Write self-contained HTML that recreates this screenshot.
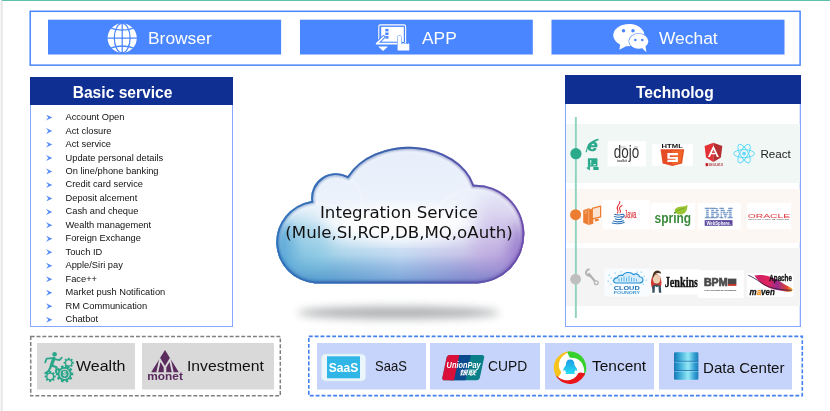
<!DOCTYPE html>
<html lang="en">
<head>
<meta charset="utf-8">
<title>Integration Service Architecture</title>
<style>
html,body{margin:0;padding:0;background:#fff;}
body{width:830px;height:411px;position:relative;overflow:hidden;will-change:transform;font-family:"Liberation Sans",sans-serif;}
.abs{position:absolute;}
#topline{left:2px;top:0;width:828px;height:1px;background:#5fc0ab;z-index:2;}
#leftedge{left:0;top:0;width:3px;height:411px;background:linear-gradient(90deg,#f8f6f8 0,#f8f6f8 1px,#e5e3e5 1px,#e5e3e5 2px,#efedef 2px,#efedef 3px);}
#channels{left:0;top:0;}
.chan{position:absolute;top:19px;height:36px;color:#fff;font-size:17.4px;line-height:34px;white-space:nowrap;}
.chan span{position:absolute;top:2.2px;}
.chan svg{position:absolute;left:0;top:0;}
.hdr{position:absolute;background:#0f2f93;color:#fff;font-weight:bold;font-size:15.6px;white-space:nowrap;}
.hdr span{position:absolute;top:6.3px;line-height:20px;}
.panel{position:absolute;border:1px solid #86a6ff;box-sizing:border-box;}
#svc{list-style:none;margin:0;padding:0;position:absolute;left:46px;top:111.1px;font-size:9.3px;line-height:13.47px;color:#111;}
#svc li{position:relative;padding-left:19.5px;height:13.47px;white-space:nowrap;}
#svc li:before{content:"";position:absolute;left:0;top:3.5px;width:6.4px;height:6px;background:#5b8ff9;clip-path:polygon(0 0,100% 50%,0 100%,35% 50%);}
.band{position:absolute;left:566px;width:234px;}
.logo{position:absolute;background:#fff;}
.dash{position:absolute;}
.tile{position:absolute;top:343px;height:46px;white-space:nowrap;font-size:15px;color:#111;}
.tile.g{background:#d9d9d9;box-shadow:0 1px 0 0 #ececec;}
.tile.b{background:#c6d4fb;box-shadow:0 1px 0 0 #e2e9fd;}
.tile span{position:absolute;top:14px;line-height:18px;display:inline-block;transform-origin:0 14.2px;}
.tile svg{position:absolute;left:0;top:0;}
#cloudtxt{left:273px;top:202.500px;width:252px;text-align:center;font-family:"DejaVu Sans","Liberation Sans",sans-serif;font-size:16.600px;line-height:20.300px;color:#111;white-space:nowrap;}
</style>
</head>
<body>
<div id="topline" class="abs"></div>
<div id="leftedge" class="abs"></div>

<!-- channels -->
<svg id="channels" class="abs" width="830" height="70" viewBox="0 0 830 70"><rect x="30.200" y="11.300" width="769.900" height="53.850" fill="none" stroke="#4a86ff" stroke-width="1.500"/></svg>
<div class="chan" style="left:48px;width:233px;">
<svg width="234" height="36" viewBox="48 19 234 36">
<rect x="48" y="19.700" width="233.100" height="34.800" fill="#4a86ff"/>
<circle cx="122.2" cy="38.1" r="14.6" fill="#fff"/>
<g fill="none" stroke="#4a86ff" stroke-width="1.25">
<path d="M122.2 23v30M107 38.1h30.4"/>
<ellipse cx="122.2" cy="38.1" rx="7.9" ry="14.6"/>
<path d="M108 27.2Q122.2 33.2 136.4 27.2M108 49Q122.2 43 136.4 49"/>
</g>
</svg>
<span style="left:100px;">Browser</span></div>
<div class="chan" style="left:300px;width:233px;">
<svg width="234" height="36" viewBox="300 19 234 36">
<rect x="300" y="19.700" width="232.800" height="34.800" fill="#4a86ff"/>
<rect x="378.8" y="24.9" width="26.8" height="18.6" rx="1.6" fill="none" stroke="#fff" stroke-width="1.1"/>
<rect x="381.2" y="26.9" width="22.6" height="15" fill="#fff"/>
<g fill="#4a86ff"><rect x="385.3" y="28.9" width="3.2" height="2.5"/><rect x="385.3" y="32.5" width="3.2" height="2.5"/><rect x="385.3" y="36.1" width="3.2" height="2.5"/></g>
<path d="M383.6 37L376.6 43.6H397" fill="none" stroke="#4a86ff" stroke-width="3.6" stroke-linejoin="round" stroke-linecap="round"/>
<path d="M383.6 37L376.6 43.6H397" fill="none" stroke="#fff" stroke-width="1.7" stroke-linejoin="round" stroke-linecap="round"/>
<path d="M378.2 46.5h9.8l-4.9 4.5z" fill="#fff"/>
<path d="M397.6 50.6V37.6a1.9 1.9 0 0 1 3.8 0V44h1.2l.9-.9.9.9h.7l.9-.9.9.9h.6l.9-.7.9.9V50.6z" fill="#fff" stroke="#4a86ff" stroke-width="1" paint-order="stroke"/>
</svg>
<span style="left:122px;">APP</span></div>
<div class="chan" style="left:551px;width:234px;">
<svg width="234" height="36" viewBox="551 19 234 36">
<rect x="551.500" y="19.700" width="233" height="34.800" fill="#4a86ff"/>
<path d="M620.3 43.8L619.4 49.8L626.5 45.9A14.9 11 0 1 0 620.3 43.8z" fill="#fff"/>
<ellipse cx="628.2" cy="35.3" rx="14.9" ry="11" fill="#fff"/>
<g stroke="#4a86ff" stroke-width="1.3" paint-order="stroke" fill="#fff">
<path d="M641.5 47.6L646.3 52L645.3 46.4z"/>
<ellipse cx="638.7" cy="41.3" rx="9.6" ry="7.5"/>
</g>
<path d="M641.8 47.4L646.3 52L645.2 46.2z" fill="#fff"/>
<g fill="#4a86ff"><circle cx="623.500" cy="30.800" r="1.750"/><circle cx="633" cy="30.800" r="1.750"/><circle cx="635.300" cy="40" r="1.300"/><circle cx="642.300" cy="40" r="1.300"/></g>
</svg>
<span style="left:108px;">Wechat</span></div>

<!-- basic service -->
<div class="panel" style="left:30px;top:77px;width:203px;height:250px;"></div>
<div class="hdr" style="left:30px;top:77px;width:203px;height:28px;"><span style="left:42.7px;">Basic service</span></div>
<ul id="svc">
<li>Account Open</li>
<li>Act closure</li>
<li>Act service</li>
<li>Update personal details</li>
<li>On line/phone banking</li>
<li>Credit card service</li>
<li>Deposit alcement</li>
<li>Cash and cheque</li>
<li>Wealth management</li>
<li>Foreign Exchange</li>
<li>Touch ID</li>
<li>Apple/Siri pay</li>
<li>Face++</li>
<li>Market push Notification</li>
<li>RM Communication</li>
<li>Chatbot</li>
</ul>

<!-- cloud -->
<svg class="abs" style="left:255px;top:130px;" width="290" height="205" viewBox="255 130 290 205">
<defs>
<path id="cp" d="M315 283.400A42 41.500 0 0 1 311.300 201.100A25 25 0 0 1 347.700 176A67.500 51 0 0 1 474 184.800A48 48.500 0 0 1 477 283.400Z"/>
<clipPath id="cc"><use href="#cp"/></clipPath>
<linearGradient id="cg" x1="0" y1="0" x2="1" y2="0">
<stop offset="0" stop-color="#3a8ccb"/><stop offset=".22" stop-color="#6db9da"/><stop offset=".5" stop-color="#a3c6ea"/><stop offset=".78" stop-color="#ab96d6"/><stop offset="1" stop-color="#8a66c2"/>
</linearGradient>
<linearGradient id="cv" x1="0" y1="0" x2="0" y2="1">
<stop offset="0" stop-color="#e6eefa"/><stop offset=".35" stop-color="#eaf1fb"/><stop offset=".56" stop-color="#f2f6fc" stop-opacity=".97"/><stop offset=".7" stop-color="#f2f6fc" stop-opacity=".62"/><stop offset=".84" stop-color="#f2f6fc" stop-opacity=".2"/><stop offset=".95" stop-color="#f2f6fc" stop-opacity="0"/>
</linearGradient>
<linearGradient id="cd" x1="0" y1="0" x2="0" y2="1"><stop offset="0" stop-color="#2a62b4" stop-opacity="0"/><stop offset="1" stop-color="#2a62b4" stop-opacity=".38"/></linearGradient>
<linearGradient id="wr" gradientUnits="userSpaceOnUse" x1="0" y1="140" x2="0" y2="260"><stop offset="0" stop-color="#fff" stop-opacity=".7"/><stop offset=".55" stop-color="#fff" stop-opacity=".55"/><stop offset="1" stop-color="#fff" stop-opacity="0"/></linearGradient>
<linearGradient id="co" x1="0" y1="0" x2="1" y2="0">
<stop offset="0" stop-color="#3272ba"/><stop offset=".5" stop-color="#3e60ac"/><stop offset="1" stop-color="#6e4eac"/>
</linearGradient>
<filter id="cb" x="-20%" y="-20%" width="140%" height="140%"><feGaussianBlur stdDeviation="8"/></filter>
<filter id="cb3" x="-20%" y="-20%" width="140%" height="140%"><feGaussianBlur stdDeviation="2.500"/></filter>
<filter id="cb4" x="-20%" y="-20%" width="140%" height="140%"><feGaussianBlur stdDeviation=".6"/></filter>
<filter id="cb2" x="-20%" y="-20%" width="140%" height="140%"><feGaussianBlur stdDeviation="1"/></filter>
<filter id="sb" x="-20%" y="-100%" width="140%" height="300%"><feGaussianBlur stdDeviation="4.500"/></filter>
</defs>
<ellipse cx="398.500" cy="312.800" rx="101" ry="6.300" fill="#6f7478" opacity=".55" filter="url(#sb)"/>
<g clip-path="url(#cc)">
<rect x="260" y="135" width="280" height="155" fill="url(#cg)"/>
<rect x="260" y="135" width="280" height="155" fill="url(#cv)"/>
<rect x="260" y="255" width="280" height="30" fill="url(#cd)"/>
<g filter="url(#cb)">
<ellipse cx="266" cy="252" rx="27" ry="40" fill="#3f92d0"/>
<ellipse cx="533" cy="252" rx="24" ry="40" fill="#8a68c6"/>
<ellipse cx="500" cy="215" rx="26" ry="22" fill="#d9d2f0" opacity=".7"/>
</g>
<g filter="url(#cb)">
<ellipse cx="300" cy="246" rx="30" ry="30" fill="#7cc3e2" opacity=".5"/>
<ellipse cx="498" cy="246" rx="26" ry="30" fill="#b49ddc" opacity=".4"/>
</g>
<g filter="url(#cb)" fill="#fff">
<ellipse cx="400" cy="224" rx="68" ry="17"/>
</g>
<g fill="none" stroke="#fff" stroke-width="1.200" opacity=".6" filter="url(#cb2)">
<path d="M474 188.500A46.500 46.500 0 0 0 430.500 226"/>
<path d="M347 178A23.500 23.500 0 0 1 358.500 212"/>
<path d="M311 203.800A40 40 0 0 1 345 214"/>
</g>
<use href="#cp" fill="none" stroke="url(#wr)" stroke-width="10.500" filter="url(#cb2)"/>
<use href="#cp" fill="none" stroke="url(#co)" stroke-width="7" opacity=".45" filter="url(#cb2)"/>
<use href="#cp" fill="none" stroke="url(#co)" stroke-width="3.800" filter="url(#cb4)"/>
</g>
</svg>
<div id="cloudtxt" class="abs">Integration Service<br>(Mule,SI,RCP,DB,MQ,oAuth)</div>

<!-- technology -->
<div class="panel" style="left:565px;top:76px;width:236px;height:251px;box-shadow:inset -1px 0 0 #dfe7fe;"></div>
<div class="hdr" style="left:565px;top:75px;width:236px;height:29px;"><span style="left:71px;top:8.200px;">Technolog</span></div>
<div class="band" style="top:124px;height:59px;background:#f0f7f5;"></div>
<div class="band" style="top:189px;height:54px;background:#fdf7f4;"></div>
<div class="band" style="top:248px;height:58px;background:#f4f4f5;"></div>
<svg class="abs" style="left:565px;top:76px;" width="236" height="251" viewBox="565 76 236 251" font-family="Liberation Sans, sans-serif">
<!-- timeline -->
<rect x="574.9" y="117" width="1.9" height="201" fill="#8fd2c0"/>
<circle cx="575.9" cy="153.7" r="5.6" fill="#2ba98b"/>
<circle cx="575.6" cy="214.7" r="5.5" fill="#ed7d31"/>
<circle cx="575.6" cy="279.2" r="5.4" fill="#bfbfbf"/>

<!-- row 1 : IE + device -->
<text x="587.300" y="150.600" font-size="16.500" font-weight="bold" font-style="italic" fill="#2ba98b" stroke="#2ba98b" stroke-width=".5" textLength="10.400" lengthAdjust="spacingAndGlyphs">e</text>
<path d="M586.300 151.600C586.800 146 592 140.200 598.500 139.400C595.500 140.400 593.400 141.800 592 143.400" fill="none" stroke="#2ba98b" stroke-width="1.200" stroke-linecap="round"/>
<rect x="587.9" y="158.3" width="9.5" height="8.3" fill="#2ba98b"/>
<rect x="590.2" y="160" width="1.1" height="3.4" fill="#d9f0ea"/><rect x="590.2" y="164.2" width="1.1" height="1.1" fill="#d9f0ea"/><rect x="593.3" y="164.2" width="2.6" height="1.1" fill="#d9f0ea"/>
<path d="M586.3 168l3.6-2.6v5.2zM593.3 167h5.3v3h-5.3z" fill="#2ba98b"/>
<!-- dojo -->
<rect x="607.6" y="141.2" width="38.3" height="25.2" fill="#fff"/>
<text x="613.8" y="157.7" font-size="17.600" fill="#333" textLength="25.400" lengthAdjust="spacingAndGlyphs">dojo</text>
<path d="M620.800 147h4.600M633.600 147h4.600" stroke="#888" stroke-width=".6"/>
<text x="617.2" y="162" font-size="3.6" font-weight="bold" fill="#444" textLength="9.6" lengthAdjust="spacingAndGlyphs">toolkit</text>
<!-- html5 -->
<rect x="652.1" y="143.8" width="40.8" height="22" fill="#fff"/>
<text x="661.6" y="148.2" font-size="5.2" font-weight="bold" fill="#111" textLength="21.2" lengthAdjust="spacingAndGlyphs">HTML</text>
<path d="M660.5 149.2h23.7l-2.1 14.2-9.8 2.7-9.7-2.7z" fill="#e44d26"/>
<path d="M672.3 150.4h10.5l-1.8 12.1-8.7 2.4z" fill="#f16529"/>
<path d="M667.4 153.1h10.5v2.1h-8.1v1.9h8.1v4.8h-10.5v-2.1h8.1v-1h-8.1z" fill="#fff"/>
<!-- angular -->
<path d="M713.4 142.7l-8.8 3.3 1.4 11.5 7.4 4.4z" fill="#e23237"/>
<path d="M713.4 142.7l8.9 3.3-1.4 11.5-7.5 4.4z" fill="#b52e31"/>
<path d="M713.4 145.4l-5.5 11.5h2.1l1.1-2.6h4.6l1.1 2.6h2.1zM713.4 149.3l1.6 3.6h-3.2z" fill="#fff"/>
<rect x="704.9" y="163.1" width="18.6" height="3.4" fill="#f6f1f1"/>
<path d="M705.4 163.5l1.5-.5 1.5.5-.3 2.3-1.2.6-1.2-.6z" fill="#c3202a"/>
<text x="709" y="166" font-size="2.9" font-weight="bold" fill="#a44" textLength="14" lengthAdjust="spacingAndGlyphs">ANGULARJS</text>
<!-- react -->
<g fill="none" stroke="#61dafb" stroke-width="1">
<ellipse cx="744.1" cy="153.6" rx="10.4" ry="4"/>
<ellipse cx="744.1" cy="153.6" rx="10.4" ry="4" transform="rotate(60 744.1 153.6)"/>
<ellipse cx="744.1" cy="153.6" rx="10.4" ry="4" transform="rotate(120 744.1 153.6)"/>
</g>
<circle cx="744.1" cy="153.6" r="1.9" fill="#61dafb"/>
<text x="760.4" y="157.8" font-size="11.8" fill="#222" textLength="30.4" lengthAdjust="spacingAndGlyphs">React</text>

<!-- row 2 : computer icon -->
<path d="M583.2 210.3l5.4-2 4.7 1.5v14l-4.7 1.2-5.4-2.3z" fill="#ed7d31"/>
<path d="M588.7 208.5v16.3" stroke="#f7c9a6" stroke-width=".6"/>
<path d="M584.6 211.6l2.6-.7M584.6 213.4l2.6-.6" stroke="#f7c9a6" stroke-width=".7"/>
<path d="M592.3 208.4l8.3-2.2v10.6l-8.3 2z" fill="#fbe3d2" stroke="#ed7d31" stroke-width="1.2" stroke-linejoin="round"/>
<path d="M594.6 219.3l3.6-.8.9 2.1-4 .9z" fill="#ed7d31"/>
<!-- java -->
<rect x="602.4" y="199.8" width="47.4" height="29.6" fill="#fff"/>
<g fill="none" stroke="#e0383e" stroke-width="1.1" stroke-linecap="round">
<path d="M619.800 201.600C620.600 204.400 615.400 206.400 617.600 209.600C618.600 211 618.200 212.200 617.400 213.200"/>
<path d="M622 205.400C619.400 206.800 618.800 208.600 620.200 210.200C620.800 211 620.600 211.800 620 212.600"/>
</g>
<g fill="none" stroke="#3174b9" stroke-width="1.1" stroke-linecap="round">
<path d="M614.6 214.300q3.700 1.300 7.600 0"/>
<path d="M614.400 216.600q3.900 1.300 7.800 0"/>
<path d="M615.400 218.900q3.200 1.100 6.200 0"/>
<path d="M622.600 214.400c2.200-.4 2.200 2.400-.9 3.500"/>
<path d="M613.400 221.100q4.800 1.700 10.200-.4"/>
<path d="M612.200 223q6 1.700 12-.6"/>
</g>
<text x="624.500" y="218.300" font-size="11.200" fill="#e0383e" stroke="#e0383e" stroke-width=".25" textLength="11.800" lengthAdjust="spacingAndGlyphs">Java</text>
<!-- spring -->
<rect x="650.900" y="202.800" width="44.200" height="26.600" fill="#fff"/>
<path d="M687.300 204.600c.6 4.800-1.300 9.800-6.600 9.900-3.800.1-5.600-1.900-6-4 .8-3.300 4.600-3.600 7.800-3.900 2.500-.2 4-.8 4.800-2z" fill="#9bc531"/>
<path d="M674.900 212.800c2.600-3.300 6.600-3.500 9.700-4.800" fill="none" stroke="#5a9a32" stroke-width=".7"/>
<text x="654.500" y="223.100" font-size="13.900" font-weight="bold" fill="#3a8a3c" textLength="36.600" lengthAdjust="spacingAndGlyphs">spring</text>
<!-- ibm websphere -->
<rect x="697.700" y="202.800" width="43.100" height="26.800" fill="#fff"/>
<text x="704.600" y="217.900" font-family="Liberation Serif, serif" font-size="14.200" font-weight="bold" fill="#7396c8" stroke="#7396c8" stroke-width=".5" textLength="28.400" lengthAdjust="spacingAndGlyphs">IBM</text>
<path d="M703 209.500h32M703 211.600h32M703 213.700h32M703 215.800h32" stroke="#fff" stroke-width=".7"/>
<rect x="704.700" y="220.100" width="27.800" height="5.700" fill="#5c4aa0"/>
<text x="706.400" y="224.600" font-size="4.900" font-weight="bold" fill="#fff" textLength="24.400" lengthAdjust="spacingAndGlyphs">WebSphere.</text>
<!-- oracle -->
<rect x="747" y="202.800" width="44.200" height="26.400" fill="#fff"/>
<text x="747.700" y="218" font-size="5.600" fill="#e2353b" textLength="42.600" lengthAdjust="spacingAndGlyphs">ORACLE</text>
<text x="748.200" y="219.700" font-size="1.700" fill="#444" textLength="41.500" lengthAdjust="spacingAndGlyphs">SOFTWARE. HARDWARE. COMPLETE.</text>

<!-- row 3 : wrench -->
<g stroke="#b3b3b3" fill="none">
<path d="M588.200 273.200l6.600 7.800" stroke-width="2.300"/>
<circle cx="596.300" cy="282.700" r="1.900" stroke-width="1.200"/>
<path d="M589.600 269.600a3.100 3.100 0 1 0 1.500 5.300" stroke-width="1.900"/>
</g>
<!-- cloud foundry -->
<rect x="604.500" y="268.500" width="45.300" height="28" fill="#f8fcff"/>
<g fill="#8ed0f4"><rect x="608.500" y="274.500" width="1.300" height="1.300"/><rect x="610.500" y="277.500" width="1.300" height="1.300"/><rect x="607.500" y="280.500" width="1.300" height="1.300"/><rect x="610.500" y="283.500" width="1.300" height="1.300"/><rect x="614.500" y="272.500" width="1.300" height="1.300"/><rect x="640.500" y="271.500" width="1.300" height="1.300"/><rect x="643.500" y="275.500" width="1.300" height="1.300"/><rect x="645.500" y="279.500" width="1.300" height="1.300"/><rect x="642.500" y="283.500" width="1.300" height="1.300"/><rect x="636.500" y="271.500" width="1.300" height="1.300"/><rect x="620.500" y="271.200" width="1.300" height="1.300"/><rect x="612.500" y="280" width="1.300" height="1.300"/></g>
<path d="M616.500 283h22.500c5 0 5.400-5.600.6-6.200-.6-2.800-4-3.600-6.200-2.200-2-3-9-3-10.600.8-2.600-.8-5 .2-5.400 2.200-4.600.2-4.800 5.400-1.400 5.400z" fill="#d4ecfb" stroke="#1f8fd6" stroke-width="1.100"/>
<path d="M619 281.500v-3M621.500 281.500v-4M624 281.500v-5M626.500 281.500v-4M629 281.500v-5.500M631.500 281.500v-4M634 281.500v-3.500M636.500 281.500v-2.500" stroke="#5fb5e8" stroke-width="1"/>
<text x="613.700" y="290" font-size="5.300" font-weight="bold" fill="#1b6fb5" textLength="26" lengthAdjust="spacingAndGlyphs">CLOUD</text>
<text x="613.700" y="293.500" font-size="3.300" font-weight="bold" fill="#4a9bd6" textLength="26.400" lengthAdjust="spacingAndGlyphs">FOUNDRY</text>
<!-- jenkins -->
<rect x="650.300" y="269.500" width="48.900" height="25" fill="#fff"/>
<ellipse cx="656.200" cy="282.600" rx="5.300" ry="8.600" fill="#d33833"/>
<path d="M652.300 286.500c0-2.500 8-2.500 8.400 0l.6 6.300h-9z" fill="#335061"/>
<path d="M655 286l1.700 1.300 1.700-1.300.6 7.500h-4.500z" fill="#fff"/>
<ellipse cx="656.600" cy="279.200" rx="3.700" ry="4.800" fill="#ecd0b4"/>
<path d="M652.700 278.300c-.6-5 2-7.800 4.600-7.800 2.200 0 3.800 1.300 3.800 3.200-2.400-1.200-5.400-.6-6.600 1.600z" fill="#4a3423"/>
<path d="M655.200 283.400q1.800 1.200 3.600 0" stroke="#7a3a2a" stroke-width=".6" fill="none"/>
<text x="664.700" y="287" font-family="Liberation Serif, serif" font-size="14.400" font-weight="bold" fill="#111" stroke="#111" stroke-width=".4" textLength="33.400" lengthAdjust="spacingAndGlyphs">Jenkins</text>
<!-- bpm -->
<rect x="697.700" y="270.200" width="46" height="27.800" fill="#fff"/>
<text x="703.900" y="285.900" font-size="10.200" font-weight="bold" fill="#4a4a4a" stroke="#4a4a4a" stroke-width=".7" textLength="23.600" lengthAdjust="spacingAndGlyphs">BPM</text>
<rect x="727.800" y="278.600" width="8.600" height="5.400" fill="#4a4a4a"/><rect x="727.800" y="284" width="8.600" height="1.900" fill="#c8332d"/>
<text x="704.300" y="290.500" font-size="1.900" font-weight="bold" fill="#333" textLength="32" lengthAdjust="spacingAndGlyphs">THE PROCESS MASTERMIND</text>
<!-- maven -->
<defs><linearGradient id="fth" x1="0" y1="0" x2="1" y2="0"><stop offset="0" stop-color="#c81e6a"/><stop offset=".35" stop-color="#e0245a"/><stop offset=".6" stop-color="#9a2a90"/><stop offset=".85" stop-color="#e2452f"/><stop offset="1" stop-color="#f2c43a"/></linearGradient></defs>
<rect x="747" y="273.300" width="46.400" height="23.400" fill="#fff"/>
<path d="M754.500 275.600c8-2 19 1 28 7.400 5 3.400 9.400 4.400 10.200 6.400.6 1.800-2.600 3-7 2.200-8-1.600-14.800-2-21-6-5-3.200-8.600-7-10.200-10z" fill="url(#fth)"/>
<path d="M748.300 275.300c3 1 8 4 13 7.600 7 5 17 7 30.500 7.400" fill="none" stroke="#2a1a3a" stroke-width=".8"/>
<text x="769.300" y="281.200" font-size="8.800" font-weight="bold" fill="#111" stroke="#111" stroke-width=".35" textLength="22.600" lengthAdjust="spacingAndGlyphs">Apache</text>
<text x="749.600" y="294.500" font-size="9.600" font-weight="bold" font-style="italic" fill="#111" stroke="#111" stroke-width=".3" textLength="25.200" lengthAdjust="spacingAndGlyphs">m<tspan fill="#f08a1c" stroke="#f08a1c">a</tspan>ven</text>
</svg>

<!-- bottom -->
<svg class="abs" style="left:20px;top:330px;" width="800" height="75" viewBox="20 330 800 75" font-family="Liberation Sans, sans-serif">
<rect x="30.700" y="336.500" width="249.600" height="59.300" fill="none" stroke="#7f7f7f" stroke-width="1.500" stroke-dasharray="3.900 1.950"/>
<rect x="308.800" y="336.400" width="493.500" height="59.200" fill="none" stroke="#4480f0" stroke-width="1.600" stroke-dasharray="3.900 1.950"/>
</svg>
<div class="tile g" style="left:37px;width:98px;">
<svg width="98" height="46" viewBox="37 343 98 46">
<g fill="#2aa68a">
<circle cx="54.600" cy="354.200" r="2.300"/>
<g fill="none" stroke="#2aa68a" stroke-linecap="round" stroke-linejoin="round">
<path d="M53.900 358.400L51.300 365.600" stroke-width="3.300"/>
<path d="M53 358.200L46.600 358.600L45.200 362.400" stroke-width="1.700"/>
<path d="M54.600 359.200L59.400 360.200L61.800 357.600" stroke-width="1.700"/>
<path d="M51.800 365.400L56.600 367.200L56 372.200" stroke-width="2.100"/>
<path d="M51 366L48.800 370.800L45.400 373.200" stroke-width="2.100"/>
</g>
<path fill-rule="evenodd" d="M73.82 361.89L73.82 363.71L72.47 363.78L72.06 364.77L72.97 365.77L71.67 367.07L70.67 366.16L69.68 366.57L69.61 367.92L67.79 367.92L67.72 366.57L66.73 366.16L65.73 367.07L64.43 365.77L65.34 364.77L64.93 363.78L63.58 363.71L63.58 361.89L64.93 361.82L65.34 360.83L64.43 359.83L65.73 358.53L66.73 359.44L67.72 359.03L67.79 357.68L69.61 357.68L69.68 359.03L70.67 359.44L71.67 358.53L72.97 359.83L72.06 360.83L72.47 361.82ZM71.300 362.800a2.600 2.600 0 1 0-5.200 0a2.600 2.600 0 1 0 5.200 0z"/>
<path fill-rule="evenodd" d="M73.31 372.66L73.31 375.14L71.36 375.30L70.89 376.74L72.38 378.02L70.92 380.02L69.24 379.00L68.02 379.89L68.47 381.80L66.11 382.57L65.36 380.76L63.84 380.76L63.09 382.57L60.73 381.80L61.18 379.89L59.96 379.00L58.28 380.02L56.82 378.02L58.31 376.74L57.84 375.30L55.89 375.14L55.89 372.66L57.84 372.50L58.31 371.06L56.82 369.78L58.28 367.78L59.96 368.80L61.18 367.91L60.73 366.00L63.09 365.23L63.84 367.04L65.36 367.04L66.11 365.23L68.47 366.00L68.02 367.91L69.24 368.80L70.92 367.78L72.38 369.78L70.89 371.06L71.36 372.50ZM69.700 373.900a5.100 5.100 0 1 0-10.200 0a5.100 5.100 0 1 0 10.200 0z"/>
<circle cx="64.600" cy="373.900" r="4.100"/>
<path fill-rule="evenodd" d="M55.71 375.52L55.71 377.48L54.26 377.56L53.82 378.62L54.79 379.70L53.40 381.09L52.32 380.12L51.26 380.56L51.18 382.01L49.22 382.01L49.14 380.56L48.08 380.12L47.00 381.09L45.61 379.70L46.58 378.62L46.14 377.56L44.69 377.48L44.69 375.52L46.14 375.44L46.58 374.38L45.61 373.30L47.00 371.91L48.08 372.88L49.14 372.44L49.22 370.99L51.18 370.99L51.26 372.44L52.32 372.88L53.40 371.91L54.79 373.30L53.82 374.38L54.26 375.44ZM52.900 376.500a2.700 2.700 0 1 0-5.400 0a2.700 2.700 0 1 0 5.400 0z"/>
</g>
<text x="64.600" y="376.300" font-size="6.800" font-weight="bold" fill="#d9d9d9" text-anchor="middle">$</text>
</svg>
<span style="left:39.200px;transform:scale(1.066,1);">Wealth</span></div>
<div class="tile g" style="left:142px;width:132px;">
<svg width="132" height="46" viewBox="142 343 132 46">
<path d="M165 350.100L178.800 372.300H151.200z" fill="#5b2a5e"/>
<path d="M157.200 372.800L160 359.600L165 367.800L170 359.600L172.800 372.800" fill="none" stroke="#d9d9d9" stroke-width="1.900" stroke-linejoin="miter"/>
<path d="M165 367.500V372.800" stroke="#d9d9d9" stroke-width="2.600"/>
<text x="147.300" y="380.200" font-size="10.600" font-weight="bold" fill="#5b2a5e" textLength="35.600" lengthAdjust="spacingAndGlyphs">monet</text>
</svg>
<span style="left:45px;transform:scale(1.047,1);">Investment</span></div>
<div class="tile b" style="left:317px;width:109px;">
<svg width="109" height="46" viewBox="317 343 109 46">
<rect x="321.300" y="354" width="44.400" height="27" rx="4.500" fill="#eaf6fb" stroke="#d5e6f2" stroke-width=".8"/>
<rect x="327" y="356.300" width="33" height="22" fill="#2fb6e6"/>
<text x="328.800" y="371.700" font-size="13.200" font-weight="bold" fill="#fff" textLength="29.400" lengthAdjust="spacingAndGlyphs">SaaS</text>
</svg>
<span style="left:58.300px;transform:scale(0.867,1);">SaaS</span></div>
<div class="tile b" style="left:430px;width:110px;">
<svg width="110" height="46" viewBox="430 343 110 46">
<defs><clipPath id="up"><path d="M449.600 354.900h32.400a2.200 2.200 0 0 1 2.100 2.900l-4.300 20.300a3 3 0 0 1-2.800 2.200h-32.600a2.100 2.100 0 0 1-2-2.700l4.300-20.300a3.200 3.200 0 0 1 2.900-2.400z"/></clipPath></defs>
<g clip-path="url(#up)">
<rect x="440" y="354" width="46" height="27" fill="#0a7f88"/>
<path d="M455 354h16l-5.600 27h-16z" fill="#0b4a8e"/>
<path d="M440 354h19.500l-5.600 27h-14z" fill="#d9103a"/>
</g>
<text x="446.600" y="367.900" font-size="8.200" font-weight="bold" font-style="italic" fill="#fff" textLength="34" lengthAdjust="spacingAndGlyphs">UnionPay</text>
<text x="459" y="375.300" font-size="6.600" font-weight="bold" font-style="italic" fill="#fff" textLength="17" lengthAdjust="spacingAndGlyphs" font-family="Liberation Sans, Noto Sans CJK SC, sans-serif">银联</text>
</svg>
<span style="left:58.200px;transform:scale(0.922,1);">CUPD</span></div>
<div class="tile b" style="left:545px;width:109px;">
<svg width="109" height="46" viewBox="545 343 109 46">
<defs><linearGradient id="pg" x1="0" y1="0" x2="0" y2="1"><stop offset="0" stop-color="#1a9ae6"/><stop offset="1" stop-color="#25def2"/></linearGradient></defs>
<circle cx="570" cy="367.700" r="15.600" fill="#fff"/>
<path d="M557.6 378.1L556.6 376.9L555.8 375.6L555.1 374.2L554.6 372.7L554.2 371.2L553.9 369.7L553.8 368.1L553.8 366.6L554.0 365.0L554.4 363.5L554.8 362.0L555.4 360.6L556.2 359.2L557.1 358.0L558.1 356.8L559.2 355.7L560.4 354.7L561.7 353.8L563.0 353.1L564.5 352.5L565.9 352.0L567.5 351.7L569.0 351.5L570.6 351.5L570.6 351.5L569.1 352.2L567.6 352.8L566.3 353.4L565.1 354.2L564.0 355.0L562.9 355.9L562.0 356.9L561.2 357.9L560.5 359.0L560.0 360.1L559.5 361.3L559.2 362.4L559.0 363.6L558.9 364.7L558.9 365.8L559.0 366.9L559.2 368.0L559.5 369.0L559.9 369.9L560.4 370.8L560.9 371.6L561.1 372.6L560.6 374.1L557.6 378.1Z" fill="#f6c41c"/>
<path d="M567.2 351.7L568.7 351.5L570.3 351.5L571.8 351.6L573.4 351.9L574.9 352.2L576.3 352.8L577.7 353.5L579.1 354.3L580.3 355.2L581.5 356.2L582.5 357.4L583.4 358.6L584.2 360.0L584.9 361.4L585.5 362.8L585.8 364.3L586.1 365.9L586.2 367.4L586.2 369.0L586.0 370.5L585.6 372.0L585.1 373.5L584.5 374.9L583.7 376.3L583.7 376.3L583.9 374.6L584.1 373.1L584.2 371.6L584.2 370.2L584.0 368.8L583.7 367.5L583.3 366.2L582.8 365.0L582.3 363.8L581.6 362.8L580.8 361.8L580.0 361.0L579.1 360.2L578.2 359.5L577.2 359.0L576.2 358.6L575.2 358.2L574.1 358.0L573.1 357.9L572.1 357.8L571.1 357.9L570.2 357.5L569.1 356.4L567.2 351.7Z" fill="#36d12c"/>
<path d="M585.2 373.2L584.6 374.7L583.9 376.0L583.0 377.3L582.0 378.5L580.9 379.6L579.7 380.6L578.5 381.5L577.1 382.3L575.7 382.9L574.2 383.3L572.7 383.7L571.1 383.9L569.6 383.9L568.0 383.8L566.5 383.5L565.0 383.1L563.5 382.6L562.1 381.9L560.8 381.1L559.6 380.1L558.4 379.1L557.4 377.9L556.5 376.6L555.7 375.3L555.7 375.3L557.0 376.3L558.3 377.2L559.5 378.0L560.8 378.7L562.0 379.3L563.3 379.7L564.6 380.0L565.9 380.2L567.2 380.2L568.5 380.2L569.7 380.0L570.8 379.7L571.9 379.3L573.0 378.8L574.0 378.3L574.8 377.6L575.6 376.9L576.4 376.1L577.0 375.3L577.5 374.5L578.0 373.6L578.7 373.0L580.3 372.6L585.2 373.2Z" fill="#e8151b"/>
<path d="M570.200 359.500c2.600 0 4.200 2 4.200 4.600 0 1 .3 1.800 1.300 2.800 1.300 1.400 1.700 3.200 1.200 3.800-.4.400-1.100-.2-1.600-.9 0 1.400-.6 2.300-1.500 3 .8.300 1.300.7 1.100 1.100h-9.400c-.2-.4.300-.8 1.100-1.100-.9-.7-1.500-1.600-1.500-3-.5.700-1.200 1.300-1.600.9-.5-.6-.1-2.400 1.200-3.800 1-1 1.300-1.800 1.300-2.800 0-2.600 1.600-4.600 4.200-4.600z" fill="url(#pg)"/>
</svg>
<span style="left:47.200px;transform:scale(1.03,1);">Tencent</span></div>
<div class="tile b" style="left:659px;width:133px;">
<svg width="133" height="46" viewBox="659 343 133 46">
<defs><linearGradient id="dbg" x1="0" y1="0" x2="1" y2="0"><stop offset="0" stop-color="#1b74b4"/><stop offset=".18" stop-color="#2d9fd2"/><stop offset=".58" stop-color="#93e8f6"/><stop offset=".85" stop-color="#2f9bd0"/><stop offset="1" stop-color="#1f7ebc"/></linearGradient></defs>
<rect x="674" y="352.200" width="24.400" height="27.600" rx="1.200" fill="url(#dbg)"/>
<path d="M674 361.300h24.400M674 370.500h24.400" stroke="#1a6aa8" stroke-width="1" opacity=".8"/>
<path d="M674 362.200h24.400M674 371.400h24.400" stroke="#b5f0fa" stroke-width=".7" opacity=".6"/>
</svg>
<span style="left:43.800px;top:15.500px;transform:scale(1.008,1);">Data Center</span></div>
</body>
</html>
